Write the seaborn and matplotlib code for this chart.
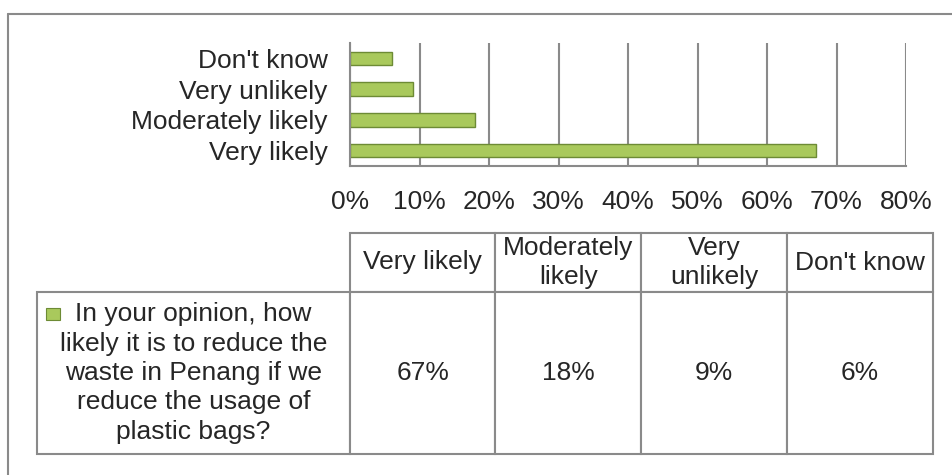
import pandas as pd
import matplotlib
matplotlib.use("Agg")
import matplotlib.pyplot as plt
import seaborn as sns
from matplotlib.table import Table
from matplotlib.patches import Rectangle
from matplotlib.lines import Line2D
from matplotlib.ticker import FuncFormatter, MultipleLocator

# data
categories = ["Don't know", "Very unlikely", "Moderately likely", "Very likely"]
values = [6, 9, 18, 67]
table_cols = ["Very likely", "Moderately\nlikely", "Very\nunlikely", "Don't know"]
table_vals = ["67%", "18%", "9%", "6%"]
question = "In your opinion, how\nlikely it is to reduce the\nwaste in Penang if we\nreduce the usage of\nplastic bags?"

df = pd.DataFrame({"category": categories, "value": values})

sns.set_style("white")
plt.rcParams["font.family"] = ["Liberation Sans", "DejaVu Sans"]

GRAY = "#8a8a8a"
BAR = "#a9c95c"
BAR_EDGE = "#6d8b35"
FS = 19

fig = plt.figure(figsize=(9.52, 4.75), dpi=100)

# outer frame (top and left edges visible)
fig.add_artist(Line2D([8 / 952, 1], [1 - 14 / 475, 1 - 14 / 475], color=GRAY, lw=1.5))
fig.add_artist(Line2D([8 / 952, 8 / 952], [0, 1 - 14 / 475], color=GRAY, lw=1.5))

# bar chart
ax = fig.add_axes([350 / 952, 1 - 166 / 475, 556 / 952, 123 / 475])
sns.barplot(data=df, y="category", x="value", orient="h", color=BAR,
            edgecolor=BAR_EDGE, linewidth=1, width=0.44, saturation=1, ax=ax)
ax.set_xlim(0, 80)
ax.xaxis.set_major_locator(MultipleLocator(10))
ax.xaxis.set_major_formatter(FuncFormatter(lambda v, p: f"{v:.0f}%"))
ax.xaxis.grid(True, color=GRAY, linewidth=1.5)
ax.set_axisbelow(True)
ax.set_xlabel("")
ax.set_ylabel("")
for s in ["top", "right"]:
    ax.spines[s].set_visible(False)
for s in ["left", "bottom"]:
    ax.spines[s].set_color(GRAY)
    ax.spines[s].set_linewidth(1.5)
ax.tick_params(axis="x", length=0, pad=17, labelsize=FS)
ax.tick_params(axis="y", length=0, pad=16, labelsize=FS)

# data table
tax = fig.add_axes([37 / 952, 1 - 454 / 475, 896 / 952, 221 / 475])
tax.axis("off")
tbl = Table(tax, bbox=[0, 0, 1, 1])
head_h, body_h = 59, 162
label_w, col_w = 313, 146
for j, name in enumerate(table_cols):
    tbl.add_cell(0, j + 1, width=col_w, height=head_h, text=name, loc="center")
    tbl.add_cell(1, j + 1, width=col_w, height=body_h, text=table_vals[j], loc="center")
tbl.add_cell(1, 0, width=label_w, height=body_h, text=question, loc="center")
tbl.auto_set_font_size(False)
for key, cell in tbl.get_celld().items():
    cell.set_edgecolor(GRAY)
    cell.set_linewidth(1.5)
    cell.get_text().set_fontsize(FS)
    cell.get_text().set_linespacing(1.28)
tax.add_table(tbl)

# legend key in the row label
tax.add_patch(Rectangle((9 / 896, (454 - 320) / 221), 14 / 896, 12 / 221,
                        transform=tax.transAxes, facecolor=BAR,
                        edgecolor=BAR_EDGE, lw=0.8, zorder=5))

fig.savefig("out.png", dpi=100)
